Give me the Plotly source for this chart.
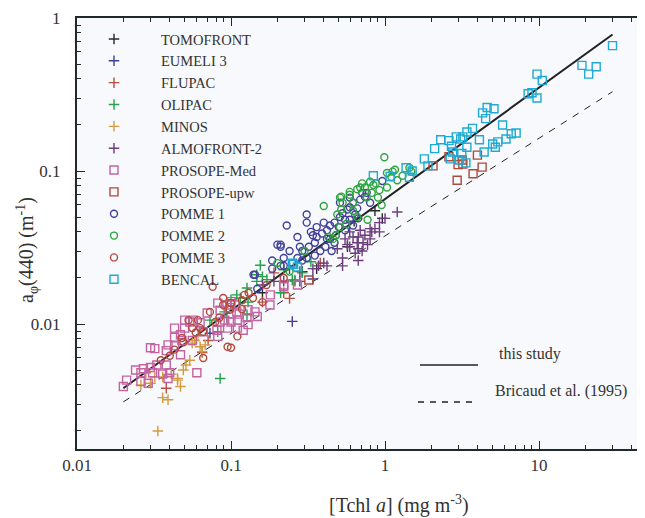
import plotly.graph_objects as go

# ---- data ----
tomofront_x = [0.86, 0.96, 0.63, 0.57, 0.36, 0.29, 0.16]
tomofront_y = [0.055, 0.049, 0.047, 0.032, 0.023, 0.022, 0.016]

eumeli_x = [0.073, 0.25, 0.34, 0.28]
eumeli_y = [0.0087, 0.0104, 0.0197, 0.019]

flupac_x = [0.038, 0.19, 0.16, 0.24, 0.065, 0.38, 0.26, 0.071, 0.22]
flupac_y = [0.0038, 0.0216, 0.0139, 0.0147, 0.0065, 0.025, 0.019, 0.0078, 0.016]

olipac_x = [0.109, 0.127, 0.129, 0.147, 0.16, 0.171, 0.091, 0.094, 0.073, 0.082, 0.127,
            0.085, 0.21, 0.26, 0.147, 0.25, 0.29, 0.115, 0.1, 0.33, 0.22, 0.155]
olipac_y = [0.0155, 0.0172, 0.0139, 0.019, 0.0204, 0.0195, 0.012, 0.011, 0.0106, 0.0089, 0.0115,
            0.0044, 0.016, 0.0194, 0.021, 0.0194, 0.0216, 0.0148, 0.0144, 0.0255, 0.0226, 0.0242]

minos_x = [0.0335, 0.036, 0.039, 0.047, 0.045, 0.036, 0.032, 0.030, 0.049, 0.054, 0.056,
           0.058, 0.065, 0.063, 0.041, 0.045, 0.051, 0.061, 0.068, 0.028, 0.026]
minos_y = [0.002, 0.0033, 0.0032, 0.0039, 0.0043, 0.0045, 0.0045, 0.0041, 0.0050, 0.0058, 0.0075,
           0.0078, 0.0066, 0.0071, 0.0047, 0.0044, 0.0054, 0.0084, 0.0073, 0.0048, 0.0040]

almofront_x = [1.2, 1.0, 0.86, 0.82, 0.92, 0.69, 0.67, 0.62, 0.72, 0.66, 0.59, 0.67, 0.64, 0.71,
               0.53, 0.53, 0.4, 0.37, 0.42, 0.34, 0.67, 0.92, 0.74, 0.8, 0.57, 0.49, 0.55, 0.24,
               0.28, 0.22, 0.19, 0.16, 0.59, 0.77, 0.8]
almofront_y = [0.054, 0.049, 0.042, 0.040, 0.040, 0.041, 0.037, 0.037, 0.034, 0.034, 0.032, 0.031,
               0.029, 0.030, 0.027, 0.024, 0.025, 0.024, 0.024, 0.023, 0.026, 0.046, 0.038, 0.036,
               0.033, 0.031, 0.036, 0.023, 0.022, 0.019, 0.019, 0.018, 0.040, 0.033, 0.042]

pmed_x = [0.02, 0.021, 0.024, 0.026, 0.026, 0.027, 0.03, 0.031, 0.033, 0.029, 0.03, 0.032, 0.038,
          0.039, 0.04, 0.036, 0.039, 0.043, 0.047, 0.043, 0.048, 0.05, 0.054, 0.057, 0.05, 0.063,
          0.066, 0.056, 0.06, 0.082, 0.081, 0.085, 0.091, 0.095, 0.1, 0.085, 0.094, 0.098, 0.106,
          0.109, 0.11, 0.113, 0.127, 0.129, 0.143, 0.148, 0.129, 0.11, 0.12, 0.1, 0.082, 0.179,
          0.22, 0.043, 0.047, 0.038, 0.22, 0.27, 0.18, 0.07]
pmed_y = [0.0039, 0.0043, 0.0050, 0.0048, 0.0042, 0.0051, 0.0052, 0.0048, 0.0054, 0.0041, 0.0070,
          0.0069, 0.0054, 0.0044, 0.0048, 0.0047, 0.0073, 0.0072, 0.0063, 0.0094, 0.0078, 0.0094,
          0.0103, 0.0106, 0.0106, 0.0102, 0.0089, 0.0078, 0.0048, 0.0083, 0.0091, 0.0103, 0.0106,
          0.0094, 0.0103, 0.0123, 0.0133, 0.0128, 0.0133, 0.0120, 0.0106, 0.0116, 0.011, 0.0124,
          0.012, 0.0112, 0.0099, 0.0094, 0.0091, 0.014, 0.0137, 0.0133, 0.0175, 0.0082, 0.0085,
          0.0067, 0.018, 0.018, 0.0155, 0.0118]

pupw_x = [2.05, 2.6, 2.94, 2.98, 3.17, 3.2, 3.73, 3.98, 4.27, 0.32]
pupw_y = [0.108, 0.124, 0.087, 0.11, 0.118, 0.111, 0.096, 0.127, 0.106, 0.0194]

pomme1_x = [0.23, 0.31, 0.31, 0.27, 0.21, 0.21, 0.24, 0.28, 0.29, 0.32, 0.35, 0.36, 0.39, 0.42,
            0.44, 0.47, 0.51, 0.53, 0.57, 0.59, 0.62, 0.66, 0.69, 0.74, 0.76, 0.96, 0.64, 0.67,
            0.59, 0.42, 0.31, 0.29, 0.27, 0.25, 0.21, 0.185, 0.143, 0.38, 0.45, 0.48, 0.55, 0.47,
            0.34, 0.35, 0.22, 0.41, 0.8, 0.71, 0.59, 0.51, 0.55, 0.5, 0.2, 0.14, 0.148, 0.22,
            0.185, 0.44, 0.62, 0.36, 0.4, 0.33]
pomme1_y = [0.044, 0.052, 0.046, 0.037, 0.033, 0.032, 0.030, 0.032, 0.030, 0.032, 0.034, 0.037,
            0.039, 0.041, 0.044, 0.046, 0.050, 0.053, 0.056, 0.058, 0.062, 0.057, 0.065, 0.068,
            0.072, 0.086, 0.052, 0.049, 0.048, 0.036, 0.027, 0.026, 0.027, 0.025, 0.024, 0.023,
            0.021, 0.030, 0.030, 0.038, 0.041, 0.034, 0.038, 0.028, 0.027, 0.032, 0.062, 0.072,
            0.067, 0.062, 0.048, 0.043, 0.033, 0.021, 0.017, 0.024, 0.026, 0.036, 0.044, 0.043,
            0.046, 0.040]

pomme2_x = [0.99, 0.4, 0.51, 0.59, 0.69, 0.71, 0.8, 0.84, 0.92, 1.03, 1.16, 1.2, 1.1, 0.9, 0.76,
            0.62, 0.53, 0.52, 0.49, 0.77, 0.66, 0.46, 0.48, 0.43, 1.03, 1.12, 0.52, 0.66, 0.74,
            0.82, 0.87, 0.59, 0.51, 1.44, 1.48, 0.2, 0.24, 0.3, 0.95, 1.3, 0.56, 0.62]
pomme2_y = [0.123, 0.059, 0.067, 0.073, 0.078, 0.083, 0.085, 0.081, 0.075, 0.078, 0.102, 0.087,
            0.091, 0.067, 0.067, 0.062, 0.062, 0.056, 0.052, 0.048, 0.050, 0.036, 0.038, 0.037,
            0.097, 0.099, 0.068, 0.076, 0.078, 0.072, 0.083, 0.070, 0.043, 0.105, 0.099, 0.025,
            0.022, 0.030, 0.060, 0.093, 0.045, 0.055]

pomme3_x = [0.076, 0.089, 0.1, 0.118, 0.122, 0.063, 0.056, 0.048, 0.059, 0.043, 0.066, 0.095,
            0.1, 0.11, 0.079, 0.084, 0.073, 0.061, 0.066, 0.089, 0.098, 0.139, 0.16, 0.118,
            0.053, 0.049, 0.17, 0.22, 0.13, 0.035, 0.04]
pomme3_y = [0.0175, 0.0148, 0.0137, 0.0143, 0.0155, 0.0094, 0.0094, 0.0081, 0.0088, 0.0068,
            0.0060, 0.0071, 0.0070, 0.0083, 0.0103, 0.0110, 0.0120, 0.0106, 0.0089, 0.0133,
            0.0124, 0.0148, 0.0139, 0.0125, 0.0106, 0.0076, 0.018, 0.020, 0.016, 0.0058, 0.0062]

bencal_x = [30, 19, 23.5, 21, 9.7, 10.5, 8.5, 9.0, 9.7, 4.3, 4.6, 5.1, 4.5, 5.8, 3.7, 3.4, 4.1,
            2.3, 2.6, 2.9, 3.1, 3.2, 2.7, 2.75, 3.4, 3.15, 3.05, 3.35, 2.65, 2.1, 1.8, 1.9, 4.4,
            5.0, 5.2, 5.4, 6.1, 6.6, 7.1, 1.37, 1.44, 0.84, 1.08, 0.255, 0.27, 0.25, 1.5]
bencal_y = [0.66, 0.49, 0.48, 0.43, 0.43, 0.39, 0.32, 0.325, 0.30, 0.24, 0.26, 0.255, 0.22, 0.20,
            0.19, 0.18, 0.16, 0.16, 0.158, 0.167, 0.162, 0.167, 0.145, 0.133, 0.143, 0.13, 0.118,
            0.113, 0.12, 0.14, 0.12, 0.108, 0.133, 0.15, 0.143, 0.155, 0.162, 0.175, 0.177, 0.105,
            0.091, 0.093, 0.092, 0.0246, 0.0236, 0.025, 0.10]

# regression lines (end points)
this_study_x = [0.02, 30]
this_study_y = [0.0038, 0.78]
bricaud_x = [0.02, 30]
bricaud_y = [0.0031, 0.33]

series = [
    ("TOMOFRONT", tomofront_x, tomofront_y, "cross-thin-open", "#2a2a2a"),
    ("EUMELI 3", eumeli_x, eumeli_y, "cross-thin-open", "#3f3f98"),
    ("FLUPAC", flupac_x, flupac_y, "cross-thin-open", "#b9503f"),
    ("OLIPAC", olipac_x, olipac_y, "cross-thin-open", "#23a24a"),
    ("MINOS", minos_x, minos_y, "cross-thin-open", "#d39b3d"),
    ("ALMOFRONT-2", almofront_x, almofront_y, "cross-thin-open", "#6c3d7c"),
    ("PROSOPE-Med", pmed_x, pmed_y, "square-open", "#c363a2"),
    ("PROSOPE-upw", pupw_x, pupw_y, "square-open", "#ad4a3c"),
    ("POMME 1", pomme1_x, pomme1_y, "circle-open", "#40409a"),
    ("POMME 2", pomme2_x, pomme2_y, "circle-open", "#2ea43e"),
    ("POMME 3", pomme3_x, pomme3_y, "circle-open", "#b34a3b"),
    ("BENCAL", bencal_x, bencal_y, "square-open", "#1eaad4"),
]
sizes = {"cross-thin-open": 7.5, "square-open": 8, "circle-open": 7}

FONT = "Times New Roman, Liberation Serif, serif"
TXT = "#333333"
AX = "#1f2a2a"

# the page body adds an 8px margin, so the figure is drawn 8px smaller
OFF = 8
W, H = 645 - OFF, 518 - OFF
# plot area in page pixels: left 77, right 645, top 18, bottom 449
L, R, T, B = 77 - OFF, 645 - OFF, 18 - OFF, 449 - OFF


def px(x):  # page pixel -> paper x
    return (x - OFF - L) / (R - L)


def py(y):  # page pixel -> paper y
    return (B - (y - OFF)) / (B - T)


fig = go.Figure()

fig.add_trace(go.Scatter(x=this_study_x, y=this_study_y, mode="lines",
                         line=dict(color="#222222", width=2), showlegend=False))
fig.add_trace(go.Scatter(x=bricaud_x, y=bricaud_y, mode="lines",
                         line=dict(color="#222222", width=1, dash="7px,7px"), showlegend=False))

for name, xs, ys, sym, col in series:
    fig.add_trace(go.Scatter(
        x=xs, y=ys, mode="markers", name=name,
        marker=dict(symbol=sym, size=sizes[sym], color=col, line=dict(color=col, width=1.4)),
    ))

minor_vals = [k * 10.0 ** e for e in range(-3, 2) for k in range(2, 10)]

fig.update_xaxes(
    type="log", range=[-2, 1.688],
    tickvals=[0.01, 0.1, 1, 10], ticktext=["0.01", "0.1", "1", "10"],
    ticks="inside", ticklen=8, tickwidth=1, tickcolor=AX,
    showline=True, linewidth=2, linecolor=AX, mirror="ticks",
    showgrid=False, zeroline=False,
    minor=dict(tickvals=minor_vals, ticks="inside", ticklen=4, tickcolor=AX, showgrid=False),
    tickfont=dict(family=FONT, size=17, color=TXT),
)
fig.update_yaxes(
    type="log", range=[-2.817, 0],
    tickvals=[0.01, 0.1, 1], ticktext=["0.01", "0.1", "1"],
    ticks="inside", ticklen=8, tickwidth=1, tickcolor=AX,
    showline=True, linewidth=2, linecolor=AX, mirror=False,
    showgrid=False, zeroline=False,
    minor=dict(tickvals=minor_vals, ticks="inside", ticklen=4, tickcolor=AX, showgrid=False),
    tickfont=dict(family=FONT, size=17, color=TXT),
    ticklabelstandoff=11,
)

fig.update_layout(
    width=W, height=H,
    margin=dict(l=L, r=W - R, t=T, b=H - B, autoexpand=False),
    paper_bgcolor="#ffffff", plot_bgcolor="#f8f9fc",
    font=dict(family=FONT, size=16, color=TXT),
    legend=dict(x=px(67), y=py(23), xanchor="left", yanchor="top",
                bgcolor="rgba(0,0,0,0)", itemwidth=84,
                font=dict(family=FONT, size=14.5, color=TXT)),
    annotations=[
        dict(text="a<sub>φ</sub>(440) (m<sup>-1</sup>)", textangle=-90,
             x=px(27), y=py(250), xref="paper", yref="paper", showarrow=False,
             xanchor="center", yanchor="middle",
             font=dict(family=FONT, size=20, color=TXT)),
        dict(text="[Tchl <i>a</i>] (mg m<sup>-3</sup>)",
             x=px(399), y=py(505), xref="paper", yref="paper", showarrow=False,
             xanchor="center", yanchor="middle",
             font=dict(family=FONT, size=20, color=TXT)),
        dict(text="this study", x=px(497), y=py(365),
             xref="paper", yref="paper", xanchor="left", showarrow=False,
             font=dict(family=FONT, size=16, color=TXT)),
        dict(text="Bricaud et al. (1995)", x=px(493), y=py(402),
             xref="paper", yref="paper", xanchor="left", showarrow=False,
             font=dict(family=FONT, size=16, color=TXT)),
    ],
    shapes=[
        dict(type="line", xref="paper", yref="paper",
             x0=px(420), x1=px(478), y0=py(365), y1=py(365),
             line=dict(color="#222222", width=1.5)),
        dict(type="line", xref="paper", yref="paper",
             x0=px(418), x1=px(478), y0=py(402), y1=py(402),
             line=dict(color="#222222", width=1.5, dash="6px,6px")),
    ],
)

fig.write_html("out.html")
